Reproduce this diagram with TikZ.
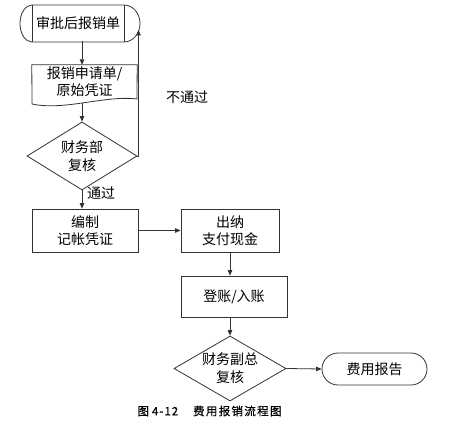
\documentclass[tikz,border=0pt]{standalone}
\usepackage{fontspec}
\setmainfont{Noto Sans CJK SC}
\newfontfamily\capfont[FakeBold=0.5]{Noto Sans CJK SC}
\usetikzlibrary{arrows.meta,shapes.geometric}
\begin{document}
\begin{tikzpicture}[x=1pt,y=1pt,
  ln/.style={draw=black!80, line width=0.8pt},
  arr/.style={ln, -{Triangle[length=5.5pt,width=4.5pt]}},
  txt/.style={font=\fontsize{14}{17}\selectfont, align=center, inner sep=0pt},
  procbox/.style={txt, ln, rectangle},
  decbox/.style={txt, font=\fontsize{14}{18}\selectfont, ln, diamond, inner sep=-6pt},
  lbl/.style={font=\fontsize{14}{17}\selectfont, inner sep=0pt}
]
\useasboundingbox (0,0) rectangle (473,-427);
\fill[white] (0,0) rectangle (473,-427);

% top terminal
\node[txt, minimum width=104pt, minimum height=36pt] (t1) at (78,-23) {审批后报销单};
\draw[ln] (32,-5) -- (124,-5) arc[start angle=90,end angle=-90,x radius=16,y radius=18.5]
  -- (32,-42) arc[start angle=270,end angle=90,x radius=12,y radius=18.5] -- cycle;
\draw[ln] (32,-5) -- (32,-42);
\draw[ln] (124,-5) -- (124,-42);
\coordinate (fbtop) at (138.5,-30);

% document
\node[txt, minimum width=105pt, minimum height=34pt] (doc) at (84.5,-82) {报销申请单/\\原始凭证};
\draw[ln] (doc.north west) -- (doc.north east) -- (137,-99)
  .. controls (105,-95) and (65,-111) .. coordinate[pos=0.52] (docb) (32,-104) -- cycle;

% decision 1
\node[decbox, minimum width=110pt, minimum height=68pt, aspect=1.62] (d1) at (82,-156) {财务部\\复核};

% boxes
\node[procbox, minimum width=106pt, minimum height=43pt] (b1) at (85,-230.5) {编制\\记帐凭证};
\node[procbox, minimum width=98pt, minimum height=43pt] (b2) at (230,-230.5) {出纳\\支付现金};
\node[procbox, minimum width=106pt, minimum height=41pt] (b3) at (234,-296.5) {登账/入账};

% decision 2
\node[decbox, minimum width=112pt, minimum height=65pt, aspect=1.72] (d2) at (230,-368.5) {财务副总\\复核};

% end terminal
\node[procbox, rounded corners=16pt, minimum width=105pt, minimum height=32pt] (t2) at (374.5,-369) {费用报告};

% connectors
\draw[arr] (t1.south -| d1.north) -- (doc.north -| d1.north);
\draw[arr] (docb -| d1.north) -- (d1.north);
\draw[arr] (d1.east) -- (d1.east -| fbtop) -- (fbtop);
\draw[arr] (d1.south) -- (b1.north -| d1.south);
\draw[arr] (b1.east) -- (b2.west);
\draw[arr] (b2.south) -- (b2.south |- b3.north);
\draw[arr] (b3.south -| d2.north) -- (d2.north);
\draw[arr] (d2.east) -- (t2.west);

% labels
\node[lbl] (l1) at (187,-97.5) {不通过};
\node[lbl, anchor=west] (l2) at (87,-193) {通过};

% caption
\node[font=\capfont\fontsize{11.5}{14}\selectfont, inner sep=0pt] (cap) at (209.5,-411)
  {图\kern3pt 4\kern1pt-\kern1pt1\kern1pt2\kern15pt 费\kern1.3pt 用\kern1.3pt 报\kern1.3pt 销\kern1.3pt 流\kern1.3pt 程\kern1.3pt 图};
\end{tikzpicture}
\end{document}
